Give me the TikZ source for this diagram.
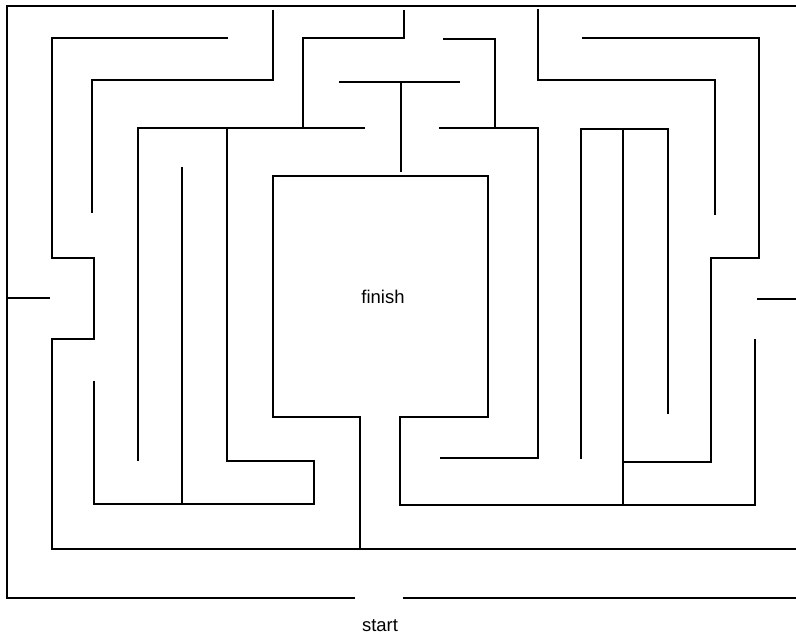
\documentclass[tikz,border=0pt]{standalone}
\usepackage{fontspec}
\setmainfont{Liberation Sans}
\begin{document}
\begin{tikzpicture}[x=0.2mm,y=-0.2mm,
    wall/.style={line width=0.9pt, line join=miter},
    mazeLabel/.style={font=\fontsize{10.5}{12}\selectfont}]
    % Define the picture size
    \useasboundingbox (0,0) rectangle (796,636);

    % Draw the outer wall
    \draw[wall] (355,598) -- (7,598) -- (7,6) -- (796,6);
    \draw[wall] (403,598) -- (796,598);
    \draw[wall] (7,298) -- (50,298);
    \draw[wall] (757,299) -- (796,299);

    % Draw the second ring
    \draw[wall] (228,38) -- (52,38) -- (52,258) -- (94,258) -- (94,339) -- (52,339) -- (52,549) -- (796,549);
    \draw[wall] (582,38) -- (759,38) -- (759,258) -- (711,258) -- (711,462) -- (622,462);

    % Draw the top walls
    \draw[wall] (273,10) -- (273,80) -- (92,80) -- (92,213);
    \draw[wall] (538,9) -- (538,80) -- (715,80) -- (715,215);
    \draw[wall] (138,461) -- (138,128) -- (365,128);
    \draw[wall] (303,128) -- (303,38) -- (404,38) -- (404,10);
    \draw[wall] (339,82) -- (460,82);
    \draw[wall] (401,82) -- (401,172);
    \draw[wall] (443,39) -- (495,39) -- (495,128);
    \draw[wall] (439,128) -- (538,128) -- (538,458) -- (440,458);

    % Draw the left inner walls
    \draw[wall] (227,128) -- (227,461) -- (314,461) -- (314,504) -- (94,504) -- (94,381);
    \draw[wall] (182,167) -- (182,504);

    % Draw the right inner walls
    \draw[wall] (581,459) -- (581,129) -- (668,129) -- (668,414);
    \draw[wall] (623,129) -- (623,505);

    % Draw the finish box
    \draw[wall] (360,549) -- (360,417) -- (273,417) -- (273,176) -- (488,176) -- (488,417) -- (400,417) -- (400,505) -- (755,505) -- (755,339);

    % Label start and finish
    \node[mazeLabel] (finish) at (383,297) {finish};
    \node[mazeLabel] (start) at (380,626) {start};

\end{tikzpicture}
\end{document}
